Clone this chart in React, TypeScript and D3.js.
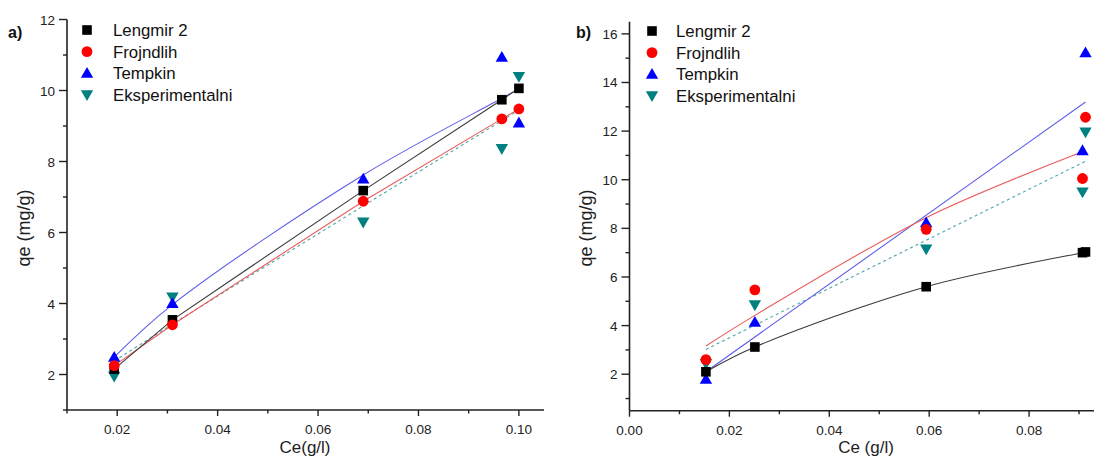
import React from "react";
import * as d3 from "d3";

// ---------- Panel a) data ----------
const aX = [0.0194, 0.031, 0.069, 0.0966, 0.1];
const aLengmir = [2.15, 3.54, 7.18, 9.74, 10.06];
const aFrojndlih = [2.25, 3.4, 6.88, 9.2, 9.48];
const aTempkin = [2.49, 4.0, 7.51, 10.94, 9.09];
const aEksp = [1.95, 4.18, 6.29, 8.36, 10.39];
// fitted curves
const aLineX = [0.0194, 0.031, 0.069, 0.0966, 0.1];
const aLengmirLine = [2.15, 3.54, 7.18, 9.74, 10.06];
const aFrojndlihLine = [2.25, 3.4, 6.88, 9.2, 9.48];
const aTempkinLine = [2.49, 3.97, 7.62, 9.78, 10.05];
const aEkspLine = [2.38, 3.42, 6.75, 9.15, 9.45];
const aXTicks = [0.02, 0.04, 0.06, 0.08, 0.1];
const aXMinor = [0.01, 0.03, 0.05, 0.07, 0.09];
const aYTicks = [2, 4, 6, 8, 10, 12];
const aYMinor = [1, 3, 5, 7, 9, 11];

// ---------- Panel b) data ----------
const bX = [0.0153, 0.0251, 0.0594, 0.0907, 0.0913];
const bLengmir = [2.1, 3.12, 5.6, 7.0, 7.03];
const bFrojndlih = [2.6, 5.47, 7.96, 10.05, 12.57];
const bTempkin = [1.8, 4.14, 8.23, 11.2, 15.23];
const bEksp = [2.44, 4.85, 7.15, 9.49, 11.96];
const bLengmirLineX = [0.0153, 0.0251, 0.0594, 0.0907, 0.0913];
const bLengmirLine = [2.1, 3.12, 5.6, 7.0, 7.03];
const bFrojndlihLineX = [0.0153, 0.0251, 0.0594, 0.0907];
const bFrojndlihLine = [3.16, 4.42, 8.44, 11.15];
const bTempkinLineX = [0.0153, 0.0913];
const bTempkinLine = [2.1, 13.2];
const bEkspLineX = [0.0153, 0.0913];
const bEkspLine = [3.02, 10.76];
const bXTicks = [0, 0.02, 0.04, 0.06, 0.08];
const bXMinor = [0.01, 0.03, 0.05, 0.07, 0.09];
const bYTicks = [2, 4, 6, 8, 10, 12, 14, 16];
const bYMinor = [1, 3, 5, 7, 9, 11, 13, 15];

const legendNames = ["Lengmir 2", "Frojndlih", "Tempkin", "Eksperimentalni"];
const markerColors = ["#000000", "#ff0000", "#0000ff", "#008080"];
const lineColors = ["#3a3a3a", "#ec5a5a", "#5d5de8", "#4aa6a6"];

const FONT = "'Liberation Sans', Arial, sans-serif";
const AXIS = "#222";

type Kind = "square" | "circle" | "up" | "down";
const kinds: Kind[] = ["square", "circle", "up", "down"];

function Marker({ kind, x, y, color }: { kind: Kind; x: number; y: number; color: string }) {
  if (kind === "square") return <rect x={x - 4.8} y={y - 4.8} width={9.6} height={9.6} fill={color} />;
  if (kind === "circle") return <circle cx={x} cy={y} r={5.4} fill={color} />;
  if (kind === "up")
    return <path d={`M${x},${y - 6.2}L${x + 6.2},${y + 4.6}L${x - 6.2},${y + 4.6}Z`} fill={color} />;
  return <path d={`M${x},${y + 6.2}L${x + 6.2},${y - 4.6}L${x - 6.2},${y - 4.6}Z`} fill={color} />;
}

interface PanelProps {
  xDomain: [number, number];
  yDomain: [number, number];
  xRange: [number, number];
  yRange: [number, number];
  xTicks: number[];
  xMinor: number[];
  yTicks: number[];
  yMinor: number[];
  xs: number[];
  series: number[][];
  lines: { x: number[]; y: number[]; curved: boolean; dashed: boolean; color: string }[];
  legendX: number;
  legendY: number;
  legendTextX: number;
  label: string;
  labelX: number;
  xTitle: string;
  xTitleX: number;
  yTitleX: number;
}

function Panel(p: PanelProps) {
  const x = d3.scaleLinear().domain(p.xDomain).range(p.xRange);
  const y = d3.scaleLinear().domain(p.yDomain).range(p.yRange);
  const [x0, x1] = p.xRange;
  const [yb, yt] = p.yRange;
  const yTitleY = 228;
  return (
    <g>
      {p.lines.map((l, i) => {
        const gen = d3
          .line<number>()
          .x((_, j) => x(l.x[j]))
          .y((v) => y(v))
          .curve(l.curved ? d3.curveCatmullRom.alpha(0.5) : d3.curveLinear);
        return (
          <path
            key={"l" + i}
            d={gen(l.y) || ""}
            fill="none"
            stroke={l.color}
            strokeWidth={1.1}
            strokeDasharray={l.dashed ? "3,3" : undefined}
          />
        );
      })}
      {[3, 2, 0, 1].map((si) =>
        p.series[si].map((v, j) => (
          <Marker key={si + "-" + j} kind={kinds[si]} x={x(p.xs[j])} y={y(v)} color={markerColors[si]} />
        ))
      )}
      <line x1={x0} x2={x1} y1={yb} y2={yb} stroke={AXIS} strokeWidth={1.6} />
      <line x1={x0} x2={x0} y1={yb} y2={yt} stroke={AXIS} strokeWidth={1.6} />
      {p.xTicks.map((t) => (
        <g key={"xt" + t}>
          <line x1={x(t)} x2={x(t)} y1={yb} y2={yb + 6} stroke={AXIS} strokeWidth={1.4} />
          <text x={x(t)} y={yb + 24} textAnchor="middle" fontSize={13.5} fontFamily={FONT} fill={AXIS}>
            {t.toFixed(2)}
          </text>
        </g>
      ))}
      {p.xMinor.map((t) =>
        t <= p.xDomain[1] ? (
          <line key={"xm" + t} x1={x(t)} x2={x(t)} y1={yb} y2={yb + 3.5} stroke={AXIS} strokeWidth={1.4} />
        ) : null
      )}
      {p.yTicks.map((t) => (
        <g key={"yt" + t}>
          <line x1={x0 - 8} x2={x0} y1={y(t)} y2={y(t)} stroke={AXIS} strokeWidth={1.4} />
          <text x={x0 - 12} y={y(t) + 5} textAnchor="end" fontSize={13.5} fontFamily={FONT} fill={AXIS}>
            {t}
          </text>
        </g>
      ))}
      {p.yMinor.map((t) =>
        t >= p.yDomain[0] ? (
          <line key={"ym" + t} x1={x0 - 4} x2={x0} y1={y(t)} y2={y(t)} stroke={AXIS} strokeWidth={1.4} />
        ) : null
      )}
      <text
        transform={`translate(${p.yTitleX},${yTitleY}) rotate(-90)`}
        textAnchor="middle"
        fontSize={18}
        fontFamily={FONT}
        fill={AXIS}
      >
        qe (mg/g)
      </text>
      <text x={p.xTitleX} y={453} textAnchor="middle" fontSize={17} fontFamily={FONT} fill={AXIS}>
        {p.xTitle}
      </text>
      <text x={p.labelX} y={38} fontSize={16} fontWeight="bold" fontFamily={FONT} fill="#111">
        {p.label}
      </text>
      {legendNames.map((n, i) => (
        <g key={"lg" + i}>
          <Marker kind={kinds[i]} x={p.legendX} y={p.legendY + i * 21.6} color={markerColors[i]} />
          <text
            x={p.legendTextX}
            y={p.legendY + i * 21.6 + 6}
            fontSize={16.8}
            fontFamily={FONT}
            fill="#111"
          >
            {n}
          </text>
        </g>
      ))}
    </g>
  );
}

export default function App() {
  return (
    <svg
      width={1094}
      height={465}
      style={{ position: "absolute", left: 0, top: 0, background: "#fff" }}
    >
      <rect x={0} y={0} width={1094} height={465} fill="#fff" />
      <Panel
        xDomain={[0.01, 0.105]}
        yDomain={[1, 12]}
        xRange={[67, 544]}
        yRange={[410, 19.5]}
        xTicks={aXTicks}
        xMinor={aXMinor}
        yTicks={aYTicks}
        yMinor={aYMinor}
        xs={aX}
        series={[aLengmir, aFrojndlih, aTempkin, aEksp]}
        lines={[
          { x: aLineX, y: aEkspLine, curved: false, dashed: true, color: lineColors[3] },
          { x: aLineX, y: aTempkinLine, curved: true, dashed: false, color: lineColors[2] },
          { x: aLineX, y: aFrojndlihLine, curved: false, dashed: false, color: lineColors[1] },
          { x: aLineX, y: aLengmirLine, curved: false, dashed: false, color: lineColors[0] },
        ]}
        legendX={87}
        legendY={30}
        legendTextX={113}
        label="a)"
        labelX={8}
        xTitle="Ce(g/l)"
        xTitleX={305}
        yTitleX={30}
      />
      <Panel
        xDomain={[0, 0.093]}
        yDomain={[0.5, 16.5]}
        xRange={[629.5, 1094]}
        yRange={[410.7, 21.7]}
        xTicks={bXTicks}
        xMinor={bXMinor}
        yTicks={bYTicks}
        yMinor={bYMinor}
        xs={bX}
        series={[bLengmir, bFrojndlih, bTempkin, bEksp]}
        lines={[
          { x: bEkspLineX, y: bEkspLine, curved: false, dashed: true, color: lineColors[3] },
          { x: bTempkinLineX, y: bTempkinLine, curved: false, dashed: false, color: lineColors[2] },
          { x: bFrojndlihLineX, y: bFrojndlihLine, curved: true, dashed: false, color: lineColors[1] },
          { x: bLengmirLineX, y: bLengmirLine, curved: true, dashed: false, color: lineColors[0] },
        ]}
        legendX={652}
        legendY={31}
        legendTextX={676}
        label="b)"
        labelX={576}
        xTitle="Ce (g/l)"
        xTitleX={866}
        yTitleX={592}
      />
    </svg>
  );
}
